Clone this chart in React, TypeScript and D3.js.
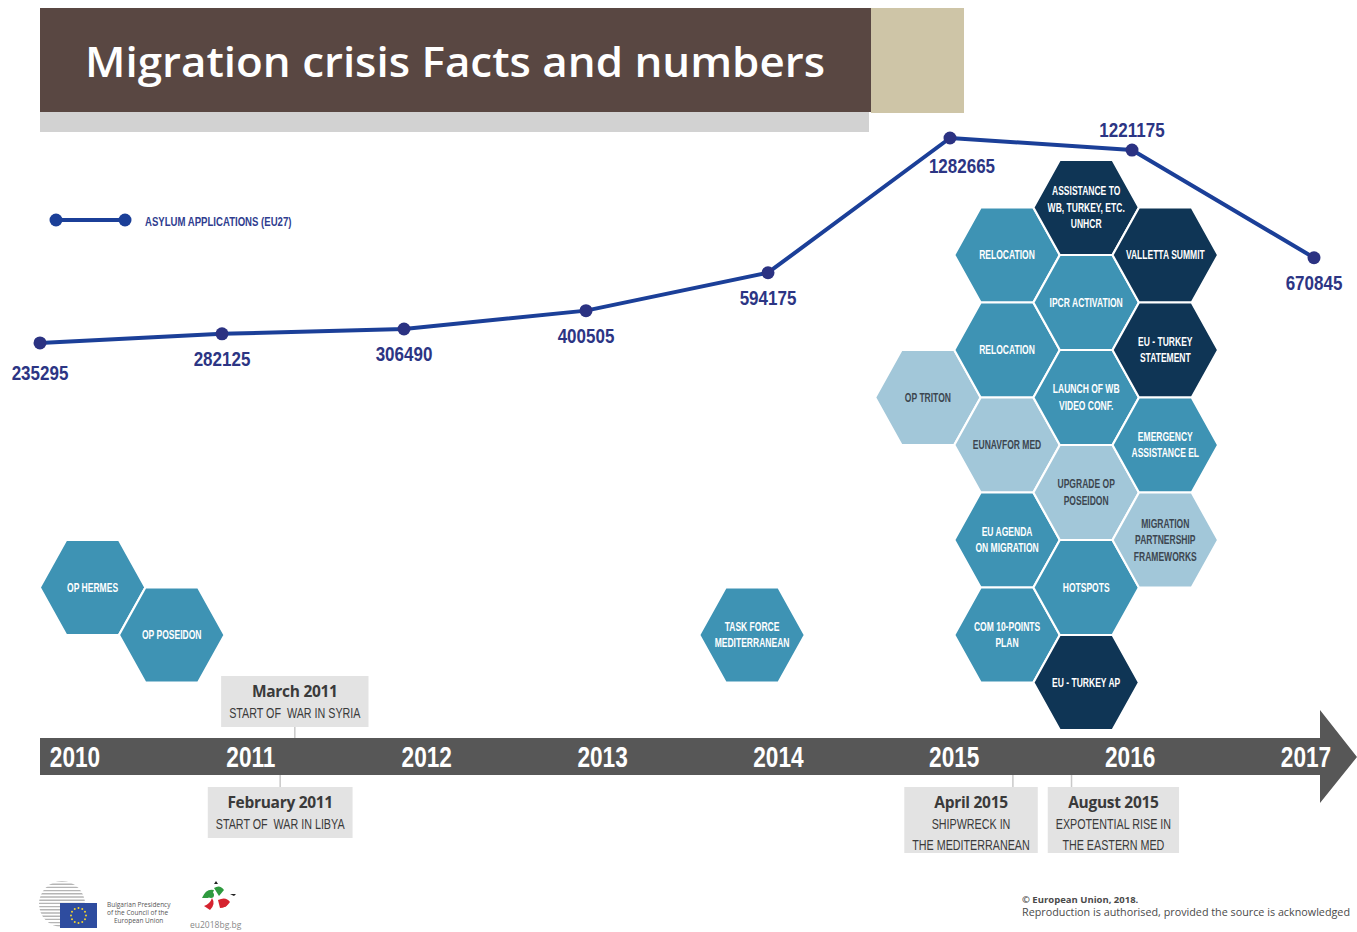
import React, { useEffect, useRef } from "react";
import * as d3 from "d3";

// ---------- data ----------
const years = [2010, 2011, 2012, 2013, 2014, 2015, 2016, 2017];
const asylumApplications = [235295, 282125, 306490, 400505, 594175, 1282665, 1221175, 670845];
const timelineYears = [2010, 2011, 2012, 2013, 2014, 2015, 2016, 2017];

const titleText = "Migration crisis Facts and numbers";
const legendLabel = "ASYLUM APPLICATIONS (EU27)";

// Measures / operations, placed at the (decimal) date they started, stacked by row
const measureLabels = [
  ["OP HERMES"],
  ["OP POSEIDON"],
  ["TASK FORCE", "MEDITERRANEAN"],
  ["OP TRITON"],
  ["RELOCATION"],
  ["RELOCATION"],
  ["EUNAVFOR MED"],
  ["EU AGENDA", "ON MIGRATION"],
  ["COM 10-POINTS", "PLAN"],
  ["ASSISTANCE TO", "WB, TURKEY, ETC.", "UNHCR"],
  ["IPCR ACTIVATION"],
  ["LAUNCH OF WB", "VIDEO CONF."],
  ["UPGRADE OP", "POSEIDON"],
  ["HOTSPOTS"],
  ["EU - TURKEY AP"],
  ["VALLETTA SUMMIT"],
  ["EU - TURKEY", "STATEMENT"],
  ["EMERGENCY", "ASSISTANCE EL"],
  ["MIGRATION", "PARTNERSHIP", "FRAMEWORKS"],
];
const measureDates = [
  2010.1, 2010.55, 2013.85, 2014.85, 2015.3, 2015.3, 2015.3, 2015.3, 2015.3,
  2015.75, 2015.75, 2015.75, 2015.75, 2015.75, 2015.75, 2016.2, 2016.2, 2016.2, 2016.2,
];
const measureRows = [7, 8, 8, 3, 0, 2, 4, 6, 8, -1, 1, 3, 5, 7, 9, 0, 2, 4, 6];
const measureTones = [
  "mid", "mid", "mid", "light", "mid", "mid", "light", "mid", "mid",
  "dark", "mid", "mid", "light", "mid", "dark", "dark", "dark", "mid", "light",
];

const eventTitles = ["March 2011", "February 2011", "April 2015", "August 2015"];
const eventLines = [
  ["START OF  WAR IN SYRIA"],
  ["START OF  WAR IN LIBYA"],
  ["SHIPWRECK IN", "THE MEDITERRANEAN"],
  ["EXPOTENTIAL RISE IN", "THE EASTERN MED"],
];
const eventYears = [2011, 2011, 2015, 2015];
const eventMonths = [3, 2, 4, 8];
const eventSides = ["above", "below", "below", "below"];

const footerCopyright = "© European Union, 2018.";
const footerReproduction = "Reproduction is authorised, provided the source is acknowledged";

// ---------- styles ----------
const COND = "'Liberation Sans', Arial, sans-serif";
const SANS = "'Open Sans', 'Noto Sans', sans-serif";
const TONE: Record<string, string> = { mid: "#3e93b4", dark: "#0f3555", light: "#a2c7d9" };
const TONE_TEXT: Record<string, string> = { mid: "#ffffff", dark: "#ffffff", light: "#3c4650" };

type Sel = d3.Selection<SVGTextElement, unknown, null, undefined>;
// emulate a condensed face by squeezing the measured natural width
const condense = (sel: Sel, f: number) => {
  const n = sel.node() as SVGTextElement;
  const L = n.getComputedTextLength();
  sel.attr("textLength", L * f).attr("lengthAdjust", "spacingAndGlyphs");
  return sel;
};

export default function App() {
  const ref = useRef<SVGSVGElement | null>(null);

  useEffect(() => {
    const svg = d3.select(ref.current);
    svg.selectAll("*").remove();

    // header
    svg.append("rect").attr("x", 871).attr("y", 8).attr("width", 93).attr("height", 105).attr("fill", "#cec5a7");
    svg.append("rect").attr("x", 40).attr("y", 112).attr("width", 829).attr("height", 20).attr("fill", "#d2d2d2");
    svg.append("rect").attr("x", 40).attr("y", 8).attr("width", 831).attr("height", 104).attr("fill", "#594742");
    svg.append("text").attr("x", 85).attr("y", 77)
      .attr("font-family", SANS).attr("font-weight", 600).attr("font-size", 42)
      .attr("fill", "#ffffff").attr("textLength", 740).attr("lengthAdjust", "spacingAndGlyphs")
      .text(titleText);

    // scales
    const xLine = d3.scaleLinear().domain([2010, 2017]).range([40, 1314]);
    const yLine = d3.scaleLinear().domain([0, 1282665]).range([389, 138]);
    const xTime = d3.scaleLinear().domain([2010, 2017]).range([75, 1306]);
    const yRow = d3.scaleLinear().domain([0, 1]).range([255, 302.5]);

    // hexagons
    const rx = 52.8, ry = 47.5;
    const hexPath = (cx: number, cy: number) =>
      d3.line()([
        [cx - rx, cy], [cx - rx / 2, cy - ry], [cx + rx / 2, cy - ry],
        [cx + rx, cy], [cx + rx / 2, cy + ry], [cx - rx / 2, cy + ry],
      ]) + "Z";
    const hexG = svg.append("g");
    measureLabels.forEach((lines, i) => {
      const cx = xTime(measureDates[i]);
      const cy = yRow(measureRows[i]);
      hexG.append("path").attr("d", hexPath(cx, cy))
        .attr("fill", TONE[measureTones[i]]).attr("stroke", "#ffffff").attr("stroke-width", 2.2);
    });
    measureLabels.forEach((lines, i) => {
      const cx = xTime(measureDates[i]);
      const cy = yRow(measureRows[i]);
      const lh = 16.5;
      lines.forEach((ln, j) => {
        const t = hexG.append("text").attr("text-anchor", "middle")
          .attr("x", cx).attr("y", cy + 4 + (j - (lines.length - 1) / 2) * lh)
          .attr("font-family", COND).attr("font-weight", 700).attr("font-size", 12)
          .attr("fill", TONE_TEXT[measureTones[i]]).text(ln);
        condense(t, 0.71);
      });
    });

    // legend
    svg.append("line").attr("x1", 56).attr("x2", 125).attr("y1", 220).attr("y2", 220)
      .attr("stroke", "#1b3f98").attr("stroke-width", 4);
    [56, 125].forEach((x) => svg.append("circle").attr("cx", x).attr("cy", 220).attr("r", 6.5).attr("fill", "#1b3f98"));
    condense(
      svg.append("text").attr("x", 145).attr("y", 226).attr("font-family", COND).attr("font-weight", 700)
        .attr("font-size", 13.5).attr("fill", "#2f3d8f").text(legendLabel),
      0.71
    );

    // line
    const pts = years.map((y, i) => [xLine(y), yLine(asylumApplications[i])] as [number, number]);
    svg.append("path").attr("d", d3.line()(pts)).attr("fill", "none")
      .attr("stroke", "#1b3f98").attr("stroke-width", 4).attr("stroke-linejoin", "round");
    pts.forEach(([x, y]) => svg.append("circle").attr("cx", x).attr("cy", y).attr("r", 6.5).attr("fill", "#2b3282"));
    const peak = asylumApplications.indexOf(d3.max(asylumApplications) as number);
    pts.forEach(([x, y], i) => {
      const isPeak = i === peak;
      const above = i === pts.length - 2;
      const dx = isPeak ? 12 : 0;
      const dy = above ? -13 : isPeak ? 35 : i === 0 ? 37 : 32;
      condense(
        svg.append("text").attr("x", x + dx).attr("y", y + dy).attr("text-anchor", "middle")
          .attr("font-family", COND).attr("font-weight", 700).attr("font-size", 20)
          .attr("fill", "#2c3584").text(String(asylumApplications[i])),
        0.85
      );
    });

    // timeline arrow
    const barTop = 738, barBot = 775;
    svg.append("path")
      .attr("d", `M40,${barTop} L1320,${barTop} L1320,710 L1357,757 L1320,803 L1320,${barBot} L40,${barBot} Z`)
      .attr("fill", "#575757");
    timelineYears.forEach((yr) => {
      condense(
        svg.append("text").attr("x", xTime(yr)).attr("y", 767).attr("text-anchor", "middle")
          .attr("font-family", COND).attr("font-weight", 700).attr("font-size", 29)
          .attr("fill", "#ffffff").text(String(yr)),
        0.78
      );
    });

    // events
    type Box = { i: number; x: number; w: number; h: number; cx: number };
    const boxes: Box[] = [];
    const lineFactor = 0.74;
    eventTitles.forEach((title, i) => {
      const x = xTime(eventYears[i] + eventMonths[i] / 12);
      const g = svg.append("g");
      const t1 = g.append("text").attr("font-family", SANS).attr("font-weight", 700)
        .attr("font-size", 15.5).attr("letter-spacing", -0.3).text(title);
      let w = (t1.node() as SVGTextElement).getComputedTextLength();
      eventLines[i].forEach((ln) => {
        const t = g.append("text").attr("font-family", COND).attr("font-weight", 400)
          .attr("font-size", 14.5).style("white-space", "pre").text(ln);
        w = Math.max(w, (t.node() as SVGTextElement).getComputedTextLength() * lineFactor);
      });
      g.remove();
      const h = 36 + eventLines[i].length * 15;
      boxes.push({ i, x, w: w + 16, h, cx: x });
    });
    // resolve overlaps for boxes on the same side
    for (let a = 0; a < boxes.length; a++) {
      for (let b = a + 1; b < boxes.length; b++) {
        const A = boxes[a], B = boxes[b];
        if (eventSides[A.i] !== eventSides[B.i]) continue;
        const need = (A.w + B.w) / 2 + 10;
        const d = Math.abs(B.cx - A.cx);
        if (d < need) {
          const push = (need - d) / 2;
          if (A.cx <= B.cx) { A.cx -= push; B.cx += push; } else { A.cx += push; B.cx -= push; }
        }
      }
    }
    boxes.forEach((bx) => {
      const i = bx.i;
      const above = eventSides[i] === "above";
      const top = above ? barTop - 11 - bx.h : barBot + 12;
      svg.append("line").attr("x1", bx.x).attr("x2", bx.x)
        .attr("y1", above ? top + bx.h : barBot).attr("y2", above ? barTop : top)
        .attr("stroke", "#c9c9c9").attr("stroke-width", 1.5);
      svg.append("rect").attr("x", bx.cx - bx.w / 2).attr("y", top).attr("width", bx.w).attr("height", bx.h)
        .attr("fill", "#e3e3e3");
      svg.append("text").attr("x", bx.cx).attr("y", top + 21).attr("text-anchor", "middle")
        .attr("font-family", SANS).attr("font-weight", 700).attr("font-size", 15.5).attr("letter-spacing", -0.3)
        .attr("fill", "#3a3a3a").text(eventTitles[i]);
      eventLines[i].forEach((ln, j) => {
        condense(
          svg.append("text").attr("x", bx.cx).attr("y", top + 42 + j * 20.5).attr("text-anchor", "middle")
            .attr("font-family", COND).attr("font-weight", 400).attr("font-size", 14.5)
            .style("white-space", "pre").attr("fill", "#3a3a3a").text(ln),
          lineFactor
        );
      });
    });

    // footer logos
    const defs = svg.append("defs");
    defs.append("clipPath").attr("id", "councilClip").append("circle").attr("cx", 62).attr("cy", 904).attr("r", 23);
    const council = svg.append("g").attr("clip-path", "url(#councilClip)");
    d3.range(881, 928, 3.2).forEach((y) => {
      council.append("line").attr("x1", 38).attr("x2", 86).attr("y1", y).attr("y2", y)
        .attr("stroke", "#b5b5b5").attr("stroke-width", 1.4);
    });
    svg.append("rect").attr("x", 60).attr("y", 903).attr("width", 37).attr("height", 25).attr("fill", "#2e4c9f");
    d3.range(12).forEach((k) => {
      const a = (k / 12) * Math.PI * 2;
      svg.append("circle").attr("cx", 78.5 + 7.5 * Math.cos(a)).attr("cy", 915.5 + 7.5 * Math.sin(a))
        .attr("r", 1).attr("fill", "#f2d330");
    });
    ["Bulgarian Presidency", "of the Council of the", "European Union"].forEach((s, j) => {
      svg.append("text").attr("x", j === 2 ? 114 : 107).attr("y", 907 + j * 8).attr("font-family", SANS)
        .attr("font-size", 6.5).attr("fill", "#555").text(s);
    });
    const bg = svg.append("g");
    bg.append("path").attr("d", "M202,898 q4,-10 12,-8 q-2,6 -6,8 z M214,888 q6,-4 10,2 l-5,6 z")
      .attr("fill", "#2f9a3f");
    bg.append("path").attr("d", "M204,906 q6,-2 8,-8 q4,6 -2,12 z M218,900 q8,-4 12,2 q-4,6 -10,6 z")
      .attr("fill", "#d5232f");
    bg.append("path").attr("d", "M214,884 l2,-3 l2,3 z M230,894 l6,0 l-2,2 z").attr("fill", "#222");
    bg.append("circle").attr("cx", 211).attr("cy", 895).attr("r", 3).attr("fill", "#2f9a3f");
    bg.append("circle").attr("cx", 224).attr("cy", 904).attr("r", 3).attr("fill", "#d5232f");
    svg.append("text").attr("x", 190).attr("y", 928).attr("font-family", SANS).attr("font-size", 8.5)
      .attr("fill", "#888").text("eu2018bg.bg");

    svg.append("text").attr("x", 1022).attr("y", 903).attr("font-family", SANS).attr("font-weight", 700)
      .attr("font-size", 9.5).attr("fill", "#4a4a4a").text(footerCopyright);
    svg.append("text").attr("x", 1022).attr("y", 916).attr("font-family", SANS)
      .attr("font-size", 10).attr("fill", "#4a4a4a").attr("textLength", 328).attr("lengthAdjust", "spacingAndGlyphs")
      .text(footerReproduction);
  }, []);

  return (
    <svg
      ref={ref}
      width={1357}
      height={932}
      style={{ position: "absolute", left: 0, top: 0, background: "#ffffff" }}
    />
  );
}
